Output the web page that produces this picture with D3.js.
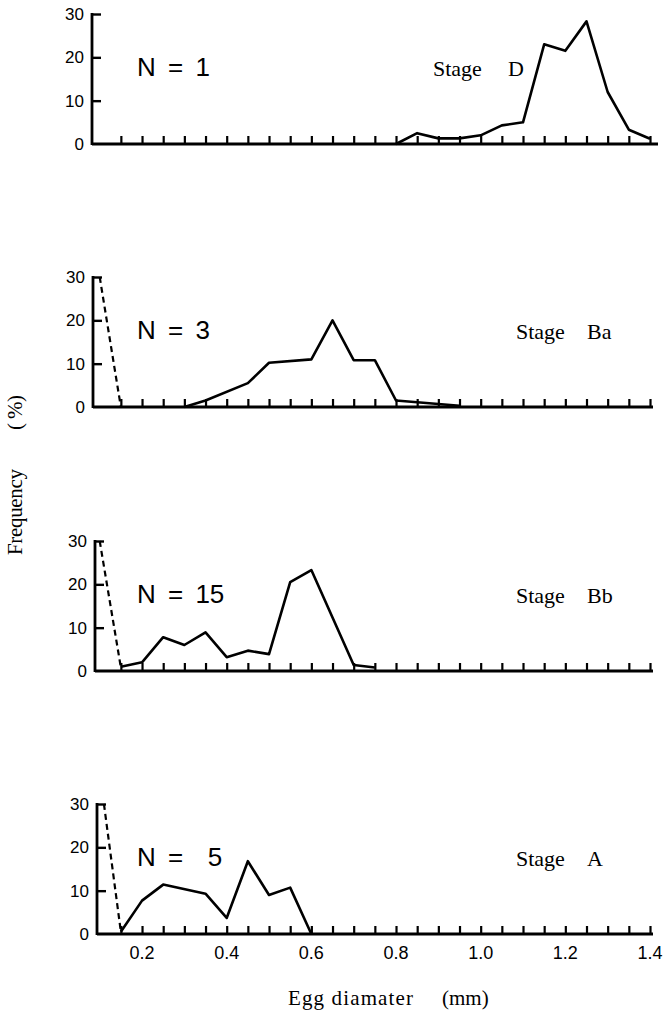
<!DOCTYPE html>
<html>
<head>
<meta charset="utf-8">
<script src="https://cdn.jsdelivr.net/npm/d3@7"></script>
<style>
  body { margin: 0; background: #fff; }
</style>
</head>
<body>
<div id="chart"></div>
<script>
// egg diameter (mm) vs frequency (%), one array per stage
const stageD = [[0.8, 0], [0.85, 2.5], [0.9, 1.3], [0.95, 1.3], [1.0, 2], [1.05, 4.3], [1.1, 5],
  [1.15, 23], [1.2, 21.5], [1.25, 28.3], [1.3, 12], [1.35, 3.3], [1.4, 1.2]];
const stageBa = [[0.3, 0], [0.35, 1.5], [0.45, 5.5], [0.5, 10.2], [0.6, 11], [0.65, 20],
  [0.7, 10.8], [0.75, 10.8], [0.8, 1.5], [0.95, 0.3]];
const stageBaDash = [[0.1, 30], [0.15, 0]];
const stageBb = [[0.15, 1], [0.2, 2], [0.25, 7.8], [0.3, 6], [0.35, 8.9], [0.4, 3.2], [0.45, 4.7],
  [0.5, 3.9], [0.55, 20.5], [0.6, 23.3], [0.7, 1.4], [0.75, 0.8]];
const stageBbDash = [[0.1, 30], [0.15, 0.8]];
const stageA = [[0.15, 0.5], [0.2, 7.7], [0.25, 11.4], [0.35, 9.3], [0.4, 3.7], [0.45, 16.8],
  [0.5, 9], [0.55, 10.7], [0.6, 0]];
const stageADash = [[0.11, 30], [0.15, 0.5]];

const stageNames = ["D", "Ba", "Bb", "A"];
const sampleN = ["1", "3", "15", " 5"];
const yTicks = [0, 10, 20, 30];
const xTickLabels = [0.2, 0.4, 0.6, 0.8, 1.0, 1.2, 1.4];

const width = 663, height = 1016;
const panelTop = [14, 277, 541, 804];   // y of the 30% line in each panel
const panelH = 130;
const axisX = [92, 93, 95, 97];         // y-axis position per panel

const solid = [stageD, stageBa, stageBb, stageA];
const dashed = [null, stageBaDash, stageBbDash, stageADash];

const svg = d3.select("#chart").append("svg")
  .attr("width", width)
  .attr("height", height);

const x = d3.scaleLinear().domain([0.1, 1.4]).range([99.7, 650]);
const minorTicks = d3.range(3, 29).map(i => i * 0.05);

const line = d3.line().x(d => x(d[0]));

stageNames.forEach((name, i) => {
  const y = d3.scaleLinear().domain([0, 30]).range([panelTop[i] + panelH, panelTop[i]]);
  const g = svg.append("g");
  const x0 = axisX[i];

  // x axis: small ticks pointing up
  const xa = g.append("g")
    .attr("transform", `translate(0,${y(0)})`)
    .call(d3.axisTop(x).tickValues(minorTicks).tickSize(8).tickFormat(""));
  xa.select(".domain").remove();
  xa.selectAll("line").attr("stroke", "#000").attr("stroke-width", 2.2);
  g.append("line")
    .attr("x1", x0).attr("x2", x(1.4) + (i === 0 ? 8 : 3))
    .attr("y1", y(0)).attr("y2", y(0))
    .attr("stroke", "#000").attr("stroke-width", 2.8);

  // y axis: ticks pointing inward, labels on the left
  const ya = g.append("g")
    .attr("transform", `translate(${x0},0)`)
    .call(d3.axisRight(y).tickValues(yTicks.filter(d => d > 0)).tickSize(9).tickFormat(""));
  ya.select(".domain").remove();
  ya.selectAll("line").attr("stroke", "#000").attr("stroke-width", 2.4);
  g.append("line")
    .attr("x1", x0).attr("x2", x0)
    .attr("y1", y(30) - 1).attr("y2", y(0) + 1)
    .attr("stroke", "#000").attr("stroke-width", 2.8);
  g.selectAll(".yl").data(yTicks).join("text")
    .attr("class", "yl")
    .attr("x", x0 - 8)
    .attr("y", d => y(d))
    .attr("dy", "0.36em")
    .attr("text-anchor", "end")
    .attr("font-family", "Liberation Sans, Arial, sans-serif")
    .attr("font-size", 17)
    .text(d => d);

  // data
  line.y(d => y(d[1]));
  g.append("path")
    .attr("d", line(solid[i]))
    .attr("fill", "none")
    .attr("stroke", "#000")
    .attr("stroke-width", 2.6)
    .attr("stroke-linejoin", "round");
  if (dashed[i]) {
    g.append("path")
      .attr("d", line(dashed[i]))
      .attr("fill", "none")
      .attr("stroke", "#000")
      .attr("stroke-width", 2.2)
      .attr("stroke-dasharray", "6,4");
  }

  // labels
  const labelY = panelTop[i] + 62;
  g.append("text")
    .attr("x", 137).attr("y", labelY)
    .attr("xml:space", "preserve")
    .attr("font-family", "Liberation Sans, Arial, sans-serif")
    .attr("font-size", 26)
    .attr("word-spacing", 5)
    .text("N = " + sampleN[i]);

  const sx = i === 0 ? 433 : 516;
  const st = g.append("text")
    .attr("x", sx).attr("y", labelY)
    .attr("font-family", "Liberation Serif, Times New Roman, serif")
    .attr("font-size", 22);
  st.append("tspan").text("Stage");
  st.append("tspan").attr("x", sx + (i === 0 ? 75 : 71)).text(name);
});

// bottom x tick labels
const yBottom = panelTop[3] + panelH;
svg.selectAll(".xl").data(xTickLabels).join("text")
  .attr("class", "xl")
  .attr("x", d => x(d))
  .attr("y", yBottom + 25)
  .attr("text-anchor", "middle")
  .attr("font-family", "Liberation Sans, Arial, sans-serif")
  .attr("font-size", 18)
  .text(d => d.toFixed(1));

// axis titles
const xt = svg.append("text")
  .attr("x", 288).attr("y", 1005)
  .attr("font-family", "Liberation Serif, Times New Roman, serif")
  .attr("font-size", 21);
xt.append("tspan").attr("textLength", 125).attr("lengthAdjust", "spacing").text("Egg diamater");
xt.append("tspan").attr("x", 442).text("(mm)");

const yt = svg.append("text")
  .attr("transform", "translate(22,555) rotate(-90)")
  .attr("font-family", "Liberation Serif, Times New Roman, serif")
  .attr("font-size", 21);
yt.append("tspan").attr("textLength", 86).attr("lengthAdjust", "spacing").text("Frequency");
yt.append("tspan").attr("x", 125).text("(");
yt.append("tspan").attr("x", 136).text("%");
yt.append("tspan").attr("x", 153).text(")");
</script>
</body>
</html>
